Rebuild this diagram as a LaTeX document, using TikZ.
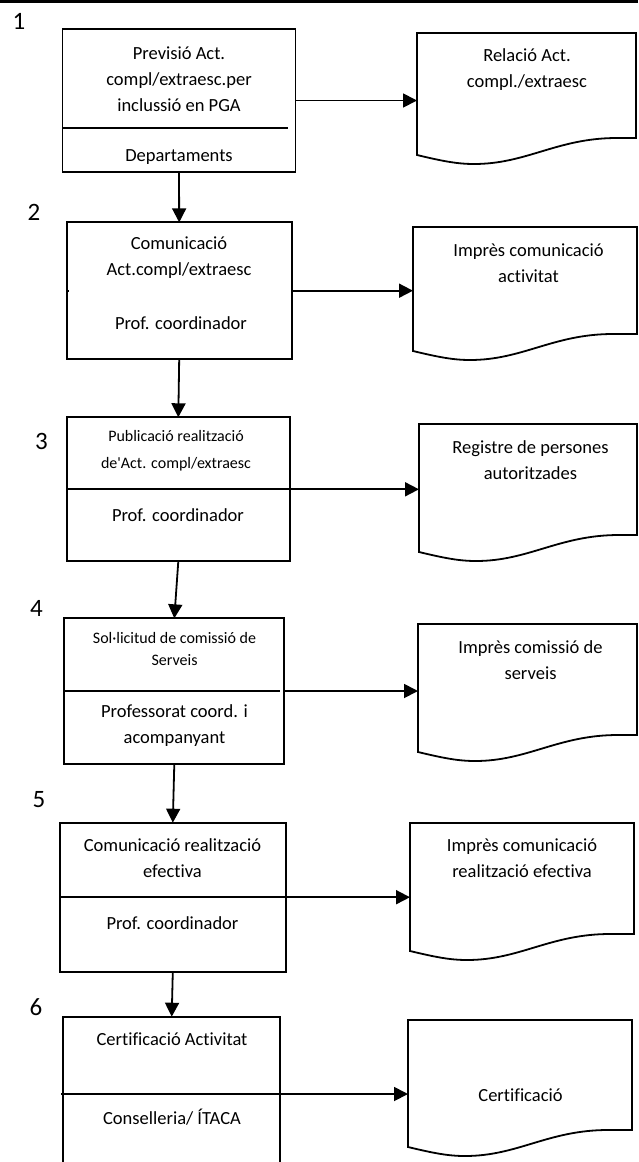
\documentclass[tikz,border=0pt]{standalone}
\usepackage{fontspec}
\setmainfont{Carlito}[Ligatures={TeXOff,CommonOff}]
\usetikzlibrary{arrows.meta,calc}
\newcommand\fnorm{\fontsize{18.5}{26}\selectfont}
\newcommand\docpath[1]{%
 \draw[docline] ($(#1.south east)+(0,-17)$) -- (#1.north east) -- (#1.north west) -- (#1.south west)
 .. controls ($(#1.south west)+(25,6)$) and ($(#1.south west)+(40,9)$) .. ($(#1.south west)+(57,9)$)
 .. controls ($(#1.south west)+(110,9)$) and ($(#1.south west)+(140,-17)$) .. ($(#1.south west)+(200,-17)$)
 -- cycle;}
\begin{document}
\begin{tikzpicture}[x=1pt,y=-1pt,
  boxline/.style={line width=1.8pt},
  boxnode/.style={draw, line width=1.8pt, inner sep=0pt, outer sep=0pt},
  areanode/.style={inner sep=0pt, outer sep=0pt},
  docline/.style={line width=1.8pt},
  arr/.style={line width=1.8pt, -{Triangle[length=14pt,width=14pt]}},
  txt/.style={inner sep=0pt, align=center, font=\fnorm},
  small/.style={inner sep=0pt, align=center, font=\fontsize{16}{#1}\selectfont},
  lbl/.style={inner sep=0pt, font=\fontsize{25}{30}\selectfont}]
\useasboundingbox (0,0) rectangle (638,1162);
\draw[line width=3pt] (0,1.5) -- (638,1.5);

% step labels
\node[lbl] (n1) at (19,21) {1};
\node[lbl] (n2) at (34,212) {2};
\node[lbl] (n3) at (41.5,441) {3};
\node[lbl] (n4) at (36.5,608) {4};
\node[lbl] (n5) at (39,800) {5};
\node[lbl] (n6) at (36,1007.5) {6};

% process boxes
\node[boxnode, minimum width=233pt, minimum height=143pt] (b1) at (179,100.5) {};
\node[boxnode, minimum width=225pt, minimum height=136.7pt] (b2) at (179.2,290.7) {};
\node[boxnode, minimum width=223.3pt, minimum height=144pt] (b3) at (178.3,489.3) {};
\node[boxnode, minimum width=220pt, minimum height=145.3pt] (b4) at (174.3,691) {};
\node[boxnode, minimum width=225.7pt, minimum height=149pt] (b5) at (172.8,897.2) {};
\node[areanode, minimum width=216.7pt, minimum height=154.6pt] (b6) at (171.7,1094) {};
\draw[boxline] ($(b6.north west)+(0,146)$) -- (b6.north west) -- (b6.north east) -- ($(b6.north east)+(0,146)$);

% dividers
\draw[boxline] ($(b1.west)+(0,27.5)$) -- ($(b1.east)+(-8,27.5)$);
\draw[boxline] (b2.west) -- ++(2,0);
\draw[boxline] (b3.west) -- (b3.east);
\draw[boxline] (b4.west) -- ($(b4.east)+(-4,0)$);
\draw[boxline] (b5.west) -- (b5.east);
\draw[boxline] ($(b6.west)+(-2,0)$) -- (b6.east);

% box texts
\node[txt] (t1a) at (179,79.5) {Previsió Act.\\compl/extraesc.per\\inclussió en PGA};
\node[txt] (t1b) at (179,157) {Departaments};
\node[txt] (t2a) at (179,257.5) {Comunicació\\Act.compl/extraesc};
\node[txt] (t2b) at (181,323) {Prof. coordinador};
\node[small=27] (t3a) at (176,450.5) {Publicació realització\\de'Act. compl/extraesc};
\node[txt] (t3b) at (178,515) {Prof. coordinador};
\node[small=22] (t4a) at (174.5,649) {Sol·licitud de comissió de\\Serveis};
\node[txt] (t4b) at (174.5,725.5) {Professorat coord. i\\acompanyant};
\node[txt] (t5a) at (172.5,858.5) {Comunicació realització\\efectiva};
\node[txt] (t5b) at (172.5,923) {Prof. coordinador};
\node[txt] (t6a) at (172,1039) {Certificació Activitat};
\node[txt] (t6b) at (172,1117) {Conselleria/ ÍTACA};

% documents
\node[areanode, minimum width=219pt, minimum height=122pt] (d1) at (526.5,94) {};
\node[areanode, minimum width=224pt, minimum height=124pt] (d2) at (525,289) {};
\node[areanode, minimum width=218pt, minimum height=128pt] (d3) at (528,488) {};
\node[areanode, minimum width=219pt, minimum height=128pt] (d4) at (527.5,688) {};
\node[areanode, minimum width=224pt, minimum height=128pt] (d5) at (522,887) {};
\node[areanode, minimum width=224pt, minimum height=127pt] (d6) at (520,1083.5) {};
\docpath{d1}
\docpath{d2}
\docpath{d3}
\docpath{d4}
\docpath{d5}
\docpath{d6}

\node[txt] (e1) at (527,70) {Relació Act.\\compl./extraesc};
\node[txt] (e2) at (528.5,263) {Imprès comunicació\\activitat};
\node[txt] (e3) at (530.5,460) {Registre de persones\\autoritzades};
\node[txt] (e4) at (530.5,660) {Imprès comissió de\\serveis};
\node[txt] (e5) at (522,858) {Imprès comunicació\\realització efectiva};
\node[txt] (e6) at (520.5,1095) {Certificació};

% flow arrows
\draw[arr] (b1.south) -- (b2.north);
\draw[arr] (b2.south) -- (b3.north);
\draw[arr] (b3.south) -- (b4.north);
\draw[arr] (b4.south) -- (b5.north);
\draw[arr] (b5.south) -- (b6.north);

% to documents
\draw[arr] (b1.east) -- (b1.east -| d1.west);
\draw[arr] (b2.east) -- (b2.east -| d2.west);
\draw[arr] (b3.east) -- (b3.east -| d3.west);
\draw[arr] (b4.east) -- (b4.east -| d4.west);
\draw[arr] (b5.east) -- (b5.east -| d5.west);
\draw[arr] (b6.east) -- (b6.east -| d6.west);
\end{tikzpicture}
\end{document}
